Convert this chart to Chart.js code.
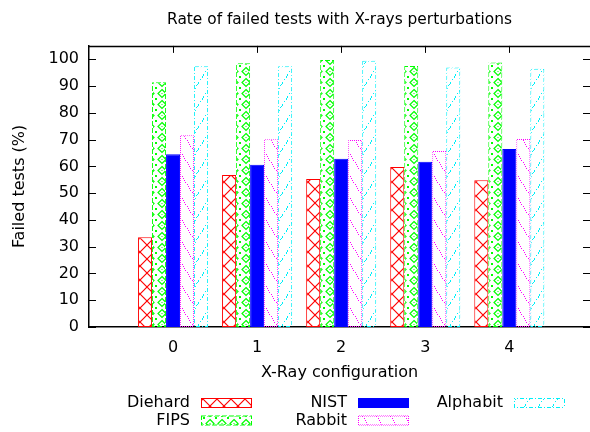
<!DOCTYPE html>
<html>
<head>
<meta charset="utf-8">
<script src="https://cdn.jsdelivr.net/npm/chart.js@4/dist/chart.umd.min.js"></script>
<style>
  html, body { margin: 0; padding: 0; background: #fff; overflow: hidden; }
  #wrap { position: relative; width: 590px; height: 432px; }
</style>
</head>
<body>
<div id="wrap"><canvas id="chart"></canvas></div>
<script>
// X-ray configurations
const configs = [0, 1, 2, 3, 4];
const seriesNames = ['Diehard', 'FIPS', 'NIST', 'Rabbit', 'Alphabit'];
// failed tests (%) per configuration
const diehard  = [33.5, 56.8, 55.3, 59.8, 54.8];
const fips     = [91.4, 98.5, 99.7, 97.5, 98.8];
const nist     = [64.5, 60.6, 62.8, 61.7, 66.5];
const rabbit   = [71.6, 70.1, 69.8, 65.7, 70.2];
const alphabit = [97.4, 97.4, 99.4, 96.9, 96.5];
const yTicks = [0, 10, 20, 30, 40, 50, 60, 70, 80, 90, 100];

const FONT = 'DejaVu Sans';
const canvas = document.getElementById('chart');
const ctx = canvas.getContext('2d');

function tile(w, h, draw) {
  const c = document.createElement('canvas');
  c.width = w; c.height = h;
  const g = c.getContext('2d');
  draw(g, w, h);
  return ctx.createPattern(c, 'repeat');
}

// border pattern: diagonal phase so both horizontal and vertical edges look dashed
function dashBorder(color, on) {
  const n = on.length;
  return tile(n, n, (g) => {
    g.fillStyle = color;
    for (let x = 0; x < n; x++)
      for (let y = 0; y < n; y++)
        if (on[(x + y) % n]) g.fillRect(x, y, 1, 1);
  });
}

const RED = '#ff0000', GREEN = '#00ff00', BLUE = '#0000ff', MAGENTA = '#ff00ff', CYAN = '#00f0f8';

const fills = {
  diehard: tile(14, 14, (g, w, h) => {
    g.fillStyle = '#fff'; g.fillRect(0, 0, w, h);
    g.strokeStyle = RED; g.lineWidth = 1.2;
    g.beginPath(); g.moveTo(0, 0); g.lineTo(w, h); g.moveTo(w, 0); g.lineTo(0, h); g.stroke();
  }),
  fips: tile(12, 11, (g, w, h) => {
    g.fillStyle = '#fff'; g.fillRect(0, 0, w, h);
    g.strokeStyle = GREEN; g.lineWidth = 1.2;
    g.beginPath();
    g.moveTo(6, 1.5); g.lineTo(10, 5.5); g.lineTo(6, 9.5); g.lineTo(2, 5.5); g.closePath();
    g.stroke();
    g.fillStyle = GREEN;
    g.fillRect(0, 0, 1, 1); g.fillRect(11, 0, 1, 1); g.fillRect(0, 10, 1, 1); g.fillRect(11, 10, 1, 1);
    g.fillRect(5.5, 5, 1, 1);
  }),
  nist: BLUE,
  rabbit: tile(14, 22, (g, w, h) => {
    g.fillStyle = '#fff'; g.fillRect(0, 0, w, h);
    g.fillStyle = MAGENTA;
    for (let t = 0; t < h; t += 2) g.fillRect(Math.floor(t * w / h), t, 1, 1);
  }),
  alphabit: tile(14, 22, (g, w, h) => {
    g.fillStyle = '#fff'; g.fillRect(0, 0, w, h);
    g.fillStyle = CYAN;
    const seq = [1, 1, 1, 1, 0, 1, 0, 0];
    for (let t = 0; t < h; t++) if (seq[t % 8]) g.fillRect(Math.floor(w - 1 - t * w / h), t, 1, 1);
  })
};

const borders = {
  diehard: RED,
  fips: dashBorder(GREEN, [1, 1, 1, 1, 1, 0, 0]),
  nist: BLUE,
  rabbit: dashBorder(MAGENTA, [1, 0]),
  alphabit: dashBorder(CYAN, [1, 1, 1, 1, 0, 0, 1, 0, 0])
};

const values = [diehard, fips, nist, rabbit, alphabit];
const keys = ['diehard', 'fips', 'nist', 'rabbit', 'alphabit'];

const datasets = seriesNames.map((name, i) => ({
  label: name,
  data: configs.map((c, j) => ({ x: c, y: values[i][j] })),
  backgroundColor: fills[keys[i]],
  borderColor: borders[keys[i]],
  borderWidth: 1,
  borderSkipped: false,
  categoryPercentage: 0.8333,
  barPercentage: 1.0
}));

// inward tick marks and top border, gnuplot style
const framePlugin = {
  id: 'frame',
  beforeDatasetsDraw(chart) {
    const { ctx, chartArea: a, scales: { x, y } } = chart;
    ctx.save();
    ctx.strokeStyle = '#000';
    ctx.lineWidth = 1;
    ctx.beginPath();
    y.ticks.forEach(t => {
      const py = Math.round(y.getPixelForValue(t.value)) + 0.5;
      ctx.moveTo(a.left, py); ctx.lineTo(a.left + 7, py);
      ctx.moveTo(a.right, py); ctx.lineTo(a.right - 7, py);
    });
    x.ticks.forEach(t => {
      const px = Math.round(x.getPixelForValue(t.value)) + 0.5;
      ctx.moveTo(px, a.top); ctx.lineTo(px, a.top + 7);
      ctx.moveTo(px, a.bottom); ctx.lineTo(px, a.bottom - 7);
    });
    ctx.stroke();
    ctx.lineWidth = 1.5;
    ctx.beginPath();
    ctx.moveTo(a.left, Math.round(a.top) + 0.5);
    ctx.lineTo(a.right, Math.round(a.top) + 0.5);
    ctx.stroke();
    ctx.restore();
  }
};

// gnuplot-like key: label right-aligned, then a sample box
const keyPlugin = {
  id: 'gnukey',
  afterDraw(chart) {
    const { ctx } = chart;
    const colText = [190, 347, 503];
    const rowY = [403, 420.5];
    ctx.save();
    ctx.font = '16px "' + FONT + '"';
    ctx.textAlign = 'right';
    ctx.textBaseline = 'middle';
    chart.data.datasets.forEach((ds, i) => {
      const col = Math.floor(i / 2), row = i % 2;
      const tx = colText[col], ty = rowY[row];
      ctx.fillStyle = '#000';
      ctx.fillText(ds.label, tx, ty);
      const bx = tx + 11, by = ty - 5, bw = 51, bh = 10;
      ctx.fillStyle = ds.borderColor;
      ctx.fillRect(bx, by, bw, bh);
      ctx.fillStyle = ds.backgroundColor;
      ctx.fillRect(bx + 1, by + 1, bw - 2, bh - 2);
    });
    ctx.restore();
  }
};

new Chart(ctx, {
  type: 'bar',
  data: { datasets },
  options: {
    responsive: true,
    maintainAspectRatio: false,
    animation: false,
    layout: { padding: { top: 2.4, left: 0, right: 0, bottom: 50 } },
    plugins: {
      legend: { display: false },
      tooltip: { enabled: false },
      title: {
        display: true,
        fullSize: false,
        text: 'Rate of failed tests with X-rays perturbations',
        color: '#000',
        font: { family: FONT, size: 15.4, weight: 'normal' },
        padding: { top: 8, bottom: 17 }
      }
    },
    scales: {
      x: {
        type: 'linear',
        offset: false,
        min: -1,
        max: 4.96,
        afterBuildTicks: (s) => { s.ticks = configs.map(v => ({ value: v })); },
        afterFit: (s) => { s.height = 55; },
        grid: { display: false, drawTicks: false },
        border: { display: true, color: '#000', width: 1.5 },
        ticks: { color: '#000', padding: 11, font: { family: FONT, size: 16 }, callback: (v) => v },
        title: {
          display: true,
          text: 'X-Ray configuration',
          color: '#000',
          font: { family: FONT, size: 16 },
          padding: { top: 0, bottom: 0 }
        }
      },
      y: {
        min: 0,
        max: 105,
        afterBuildTicks: (s) => { s.ticks = yTicks.map(v => ({ value: v })); },
        afterFit: (s) => { s.width = 89; },
        grid: { display: false, drawTicks: false },
        border: { display: true, color: '#000', width: 1.5 },
        ticks: { color: '#000', padding: 10, font: { family: FONT, size: 16 } },
        title: {
          display: true,
          text: 'Failed tests (%)',
          color: '#000',
          font: { family: FONT, size: 16 },
          padding: { top: 10, bottom: 0 }
        }
      }
    }
  },
  plugins: [framePlugin, keyPlugin]
});
</script>
</body>
</html>
